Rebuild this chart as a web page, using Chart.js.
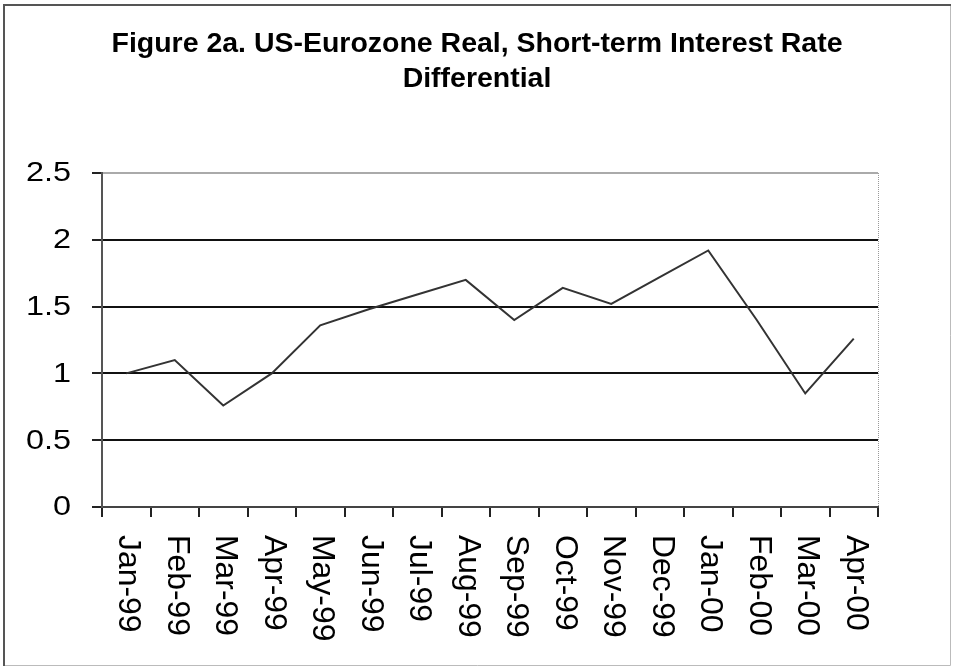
<!DOCTYPE html>
<html>
<head>
<meta charset="utf-8">
<script src="https://cdn.jsdelivr.net/npm/chart.js@4"></script>
<style>
  body { margin: 0; background: #fff; }
  canvas { display: block; }
</style>
</head>
<body>
<canvas id="rateChart" width="953" height="668"></canvas>
<script>
// data
const titleLines = ['Figure 2a. US-Eurozone Real, Short-term Interest Rate', 'Differential'];
const months = ['Jan-99', 'Feb-99', 'Mar-99', 'Apr-99', 'May-99', 'Jun-99', 'Jul-99', 'Aug-99',
                'Sep-99', 'Oct-99', 'Nov-99', 'Dec-99', 'Jan-00', 'Feb-00', 'Mar-00', 'Apr-00'];
const differential = [1.00, 1.10, 0.76, 1.00, 1.36, 1.48, 1.59, 1.70,
                      1.40, 1.64, 1.52, 1.72, 1.92, 1.40, 0.85, 1.26];
const yTicks = [0, 0.5, 1, 1.5, 2, 2.5];

const FONT = "'Liberation Sans', Arial, sans-serif";

// Excel-ish text: stretched title, y labels and downward-reading month labels
const textPlugin = {
    id: 'excelText',
    beforeDraw(chart) {
        const ctx = chart.ctx;
        ctx.save();
        ctx.fillStyle = '#fff';
        ctx.fillRect(0, 0, chart.width, chart.height);
        ctx.restore();
    },
    afterDraw(chart) {
        const ctx = chart.ctx;
        const area = chart.chartArea;
        const xScale = chart.scales.x;
        const yScale = chart.scales.y;

        ctx.save();
        ctx.fillStyle = '#000';

        // title
        ctx.font = 'bold 27px ' + FONT;
        ctx.textAlign = 'center';
        ctx.textBaseline = 'alphabetic';
        const sx = 731 / ctx.measureText(titleLines[0]).width;
        [52, 87].forEach((base, i) => {
            ctx.save();
            ctx.translate(477, base);
            ctx.scale(sx, 1);
            ctx.fillText(titleLines[i], 0, 0);
            ctx.restore();
        });

        // y labels
        ctx.font = '27px ' + FONT;
        ctx.textAlign = 'right';
        ctx.textBaseline = 'middle';
        yTicks.forEach(v => {
            ctx.save();
            ctx.translate(71, yScale.getPixelForValue(v));
            ctx.scale(1.2, 1);
            ctx.fillText(String(v), 0, 1);
            ctx.restore();
        });

        // month labels, rotated clockwise
        ctx.font = '29px ' + FONT;
        ctx.textAlign = 'left';
        ctx.textBaseline = 'alphabetic';
        months.forEach((m, i) => {
            ctx.save();
            ctx.translate(xScale.getPixelForValue(i) - 7, 535);
            ctx.rotate(Math.PI / 2);
            ctx.scale(1.1, 1.08);
            ctx.fillText(m, 0, 0);
            ctx.restore();
        });

        // dotted right edge of plot area
        ctx.strokeStyle = '#999';
        ctx.lineWidth = 1;
        ctx.setLineDash([1, 1]);
        ctx.beginPath();
        ctx.moveTo(area.right + 0.5, area.top);
        ctx.lineTo(area.right + 0.5, area.bottom);
        ctx.stroke();
        ctx.setLineDash([]);

        // outer frame
        ctx.strokeStyle = '#bbb';
        ctx.lineWidth = 1;
        ctx.beginPath();
        ctx.moveTo(950.5, 5);
        ctx.lineTo(950.5, 665.5);
        ctx.lineTo(4, 665.5);
        ctx.stroke();
        ctx.strokeStyle = '#555';
        ctx.lineWidth = 2;
        ctx.beginPath();
        ctx.moveTo(4, 666);
        ctx.lineTo(4, 5);
        ctx.lineTo(951, 5);
        ctx.stroke();
        ctx.restore();
    }
};

new Chart(document.getElementById('rateChart').getContext('2d'), {
    type: 'line',
    data: {
        labels: months,
        datasets: [{
            label: 'Real short-term rate differential',
            data: differential,
            borderColor: '#333',
            borderWidth: 2,
            pointRadius: 0,
            tension: 0,
            fill: false
        }]
    },
    options: {
        responsive: false,
        animation: false,
        devicePixelRatio: 1,
        layout: { padding: { top: 173, right: 75, bottom: 0, left: 0 } },
        plugins: {
            legend: { display: false },
            title: { display: false },
            tooltip: { enabled: false }
        },
        scales: {
            x: {
                offset: true,
                ticks: { display: false },
                grid: {
                    offset: true,
                    drawOnChartArea: false,
                    drawTicks: true,
                    tickLength: 10,
                    color: '#222',
                    lineWidth: 2
                },
                border: { color: '#444', width: 2 },
                afterFit: scale => { scale.height = 161; }
            },
            y: {
                min: 0,
                max: 2.5,
                ticks: { display: false, stepSize: 0.5 },
                grid: {
                    drawTicks: true,
                    tickLength: 10,
                    color: c => (c.tick && c.tick.value === 2.5) ? '#aaa' : '#111',
                    tickColor: '#222',
                    lineWidth: 2
                },
                border: { color: '#555', width: 2 },
                afterFit: scale => { scale.width = 102; }
            }
        }
    },
    plugins: [textPlugin]
});
</script>
</body>
</html>
